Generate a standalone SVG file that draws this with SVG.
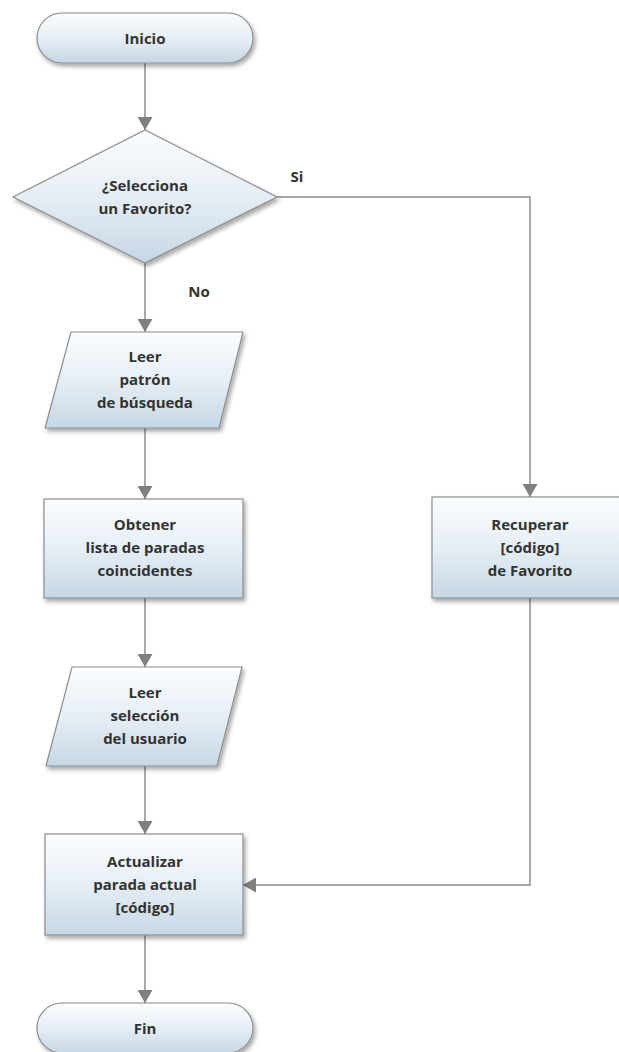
<svg xmlns="http://www.w3.org/2000/svg" width="619" height="1052" viewBox="0 0 619 1052">
  <defs>
    <linearGradient id="fillGrad" x1="0" y1="0" x2="0" y2="1">
      <stop offset="0" stop-color="#fbfdfe"/>
      <stop offset="0.5" stop-color="#e6eef5"/>
      <stop offset="1" stop-color="#c6d7e5"/>
    </linearGradient>
    <filter id="shadow" x="-10%" y="-10%" width="125%" height="130%">
      <feDropShadow dx="2" dy="3" stdDeviation="2" flood-color="#000" flood-opacity="0.35"/>
    </filter>
    <marker id="arrow" viewBox="0 0 13 15" refX="13" refY="7.5" markerWidth="13" markerHeight="15" markerUnits="userSpaceOnUse" orient="auto">
      <path d="M0,0 L13,7.5 L0,15 Z" fill="#7f7f7f"/>
    </marker>
    <style>
      .shape { fill: url(#fillGrad); stroke: #8e8e8e; stroke-width: 1.2; filter: url(#shadow); }
      .label { font-family: "Open Sans", "Noto Sans", "Liberation Sans", sans-serif; font-weight: bold; font-size: 15px; fill: #333333; text-anchor: middle; }
      .conn { fill: none; stroke: #8c8c8c; stroke-width: 1.5; }
    </style>
  </defs>

  <!-- connectors -->
  <g id="connectors">
    <line class="conn" x1="145" y1="63" x2="145" y2="130" marker-end="url(#arrow)"/>
    <line class="conn" x1="145" y1="263" x2="145" y2="332" marker-end="url(#arrow)"/>
    <line class="conn" x1="145" y1="428" x2="145" y2="499" marker-end="url(#arrow)"/>
    <line class="conn" x1="145" y1="598" x2="145" y2="667" marker-end="url(#arrow)"/>
    <line class="conn" x1="145" y1="766" x2="145" y2="834" marker-end="url(#arrow)"/>
    <line class="conn" x1="145" y1="935" x2="145" y2="1003" marker-end="url(#arrow)"/>
    <polyline class="conn" points="277,197 530,197 530,497" marker-end="url(#arrow)"/>
    <polyline class="conn" points="530,598 530,885 243,885" marker-end="url(#arrow)"/>
    <text class="label" x="297" y="182">Si</text>
    <text class="label" x="199" y="297">No</text>
  </g>

  <!-- start -->
  <g id="inicio">
    <rect class="shape" x="37" y="13" width="216" height="50" rx="25" ry="25"/>
    <text class="label" x="145" y="44">Inicio</text>
  </g>

  <!-- decision -->
  <g id="selecciona-favorito">
    <polygon class="shape" points="145,130 277,197 145,263 13,197"/>
    <text class="label" x="145" y="191">¿Selecciona</text>
    <text class="label" x="145" y="214">un Favorito?</text>
  </g>

  <g id="leer-patron">
    <polygon class="shape" points="71,332 243,332 219,428 45,428"/>
    <text class="label" x="145" y="362">Leer</text>
    <text class="label" x="145" y="385">patrón</text>
    <text class="label" x="145" y="408">de búsqueda</text>
  </g>

  <g id="obtener-lista">
    <rect class="shape" x="44" y="499" width="199" height="99"/>
    <text class="label" x="145" y="530">Obtener</text>
    <text class="label" x="145" y="553">lista de paradas</text>
    <text class="label" x="145" y="576">coincidentes</text>
  </g>

  <g id="leer-seleccion">
    <polygon class="shape" points="72,667 242,667 217,766 46,766"/>
    <text class="label" x="145" y="698">Leer</text>
    <text class="label" x="145" y="721">selección</text>
    <text class="label" x="145" y="744">del usuario</text>
  </g>

  <g id="recuperar-codigo">
    <rect class="shape" x="432" y="497" width="198" height="101"/>
    <text class="label" x="530" y="530">Recuperar</text>
    <text class="label" x="530" y="553">[código]</text>
    <text class="label" x="530" y="576">de Favorito</text>
  </g>

  <g id="actualizar-parada">
    <rect class="shape" x="45" y="834" width="198" height="101"/>
    <text class="label" x="145" y="867">Actualizar</text>
    <text class="label" x="145" y="890">parada actual</text>
    <text class="label" x="145" y="913">[código]</text>
  </g>

  <!-- end -->
  <g id="fin">
    <rect class="shape" x="37" y="1003" width="216" height="50" rx="25" ry="25"/>
    <text class="label" x="145" y="1034">Fin</text>
  </g>
</svg>
